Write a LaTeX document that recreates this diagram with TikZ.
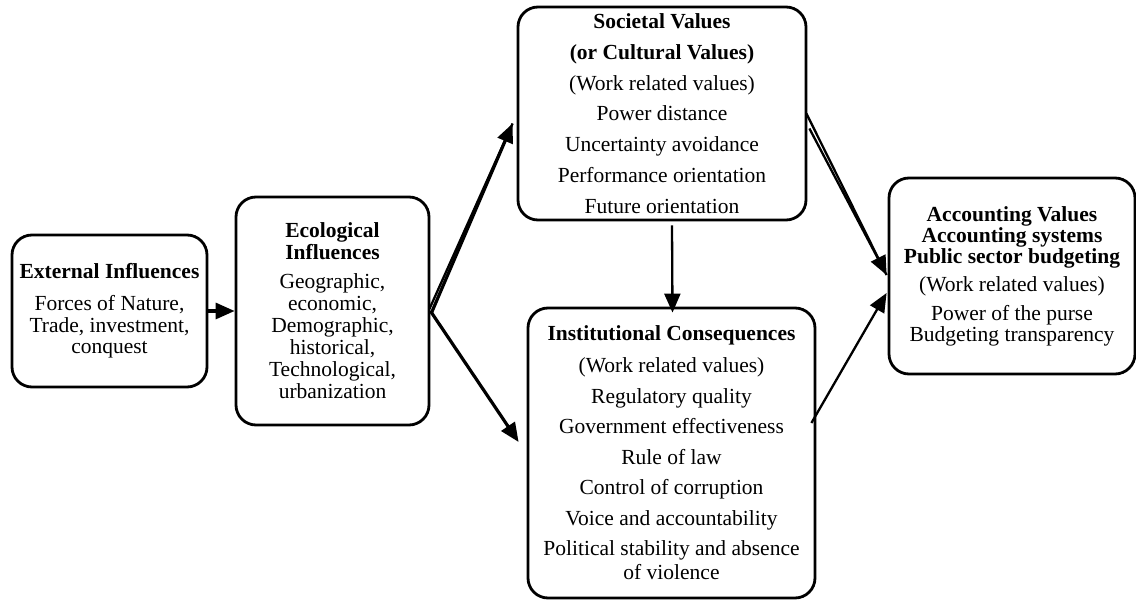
\documentclass[tikz,border=0pt]{standalone}
\usepackage{fontspec}
\setmainfont{Liberation Serif}
\usetikzlibrary{arrows.meta,calc}
\newcommand\boxfont[1]{\fontsize{21.5}{#1}\selectfont}
\tikzset{
  box/.style={draw, line width=2.8pt, rounded corners=20pt, inner sep=0pt, align=center},
  conn/.style={line width=3.2pt, -{Triangle[length=19pt,width=16pt]}},
  thinconn/.style={line width=2.3pt, -{Triangle[length=19pt,width=16pt]}},
  plainline/.style={line width=2.3pt},
}
\begin{document}
\begin{tikzpicture}[x=1pt,y=-1pt]
\useasboundingbox (0,0) rectangle (1136,601);

% boxes
\node[box, minimum width=195pt, minimum height=152pt, font=\boxfont{21.7}] (ext) at (109.5,311)
  {\textbf{External Influences}\\[10pt] Forces of Nature,\\ Trade, investment,\\ conquest};

\node[box, minimum width=193pt, minimum height=228pt, font=\boxfont{22}] (eco) at (332.5,311)
  {\textbf{Ecological}\\ \textbf{Influences}\\[7pt] Geographic,\\ economic,\\ Demographic,\\ historical,\\ Technological,\\ urbanization};

\node[box, minimum width=288pt, minimum height=213pt, font=\boxfont{30.8}] (soc) at (662,113.5)
  {\textbf{Societal Values}\\ \textbf{(or Cultural Values)}\\ (Work related values)\\ Power distance\\ Uncertainty avoidance\\ Performance orientation\\ Future orientation};

\node[box, minimum width=287pt, minimum height=290pt, font=\boxfont{30.5}] (inst) at (671.5,453)
  {\textbf{Institutional Consequences}\\[1.5pt] (Work related values)\\ Regulatory quality\\ Government effectiveness\\ Rule of law\\ Control of corruption\\ Voice and accountability\\ Political stability and absence\\[-6.5pt] of violence};

\node[box, minimum width=246pt, minimum height=196pt, font=\boxfont{21}] (acc) at (1012,276)
  {\textbf{Accounting Values}\\ \textbf{Accounting systems}\\ \textbf{Public sector budgeting}\\[7pt] (Work related values)\\[8pt] Power of the purse\\ Budgeting transparency};

% connectors
\draw[conn] (ext.east) -- (eco.west);

\coordinate (socin) at ($(soc.west)+(-4,10)$);
\draw[plainline] ($(eco.east)+(-1,-2)$) -- (socin);
\draw[conn] ($(eco.east)+(1,2)$) -- (socin);
\draw[conn] (eco.east) -- ($(inst.west)+(-8,-11)$);

\draw[thinconn] ($(soc.south)+(10,4)$) -- ($(inst.north)+(1,6)$);

\coordinate (accin) at ($(acc.west)+(-1,-1)$);
\draw[thinconn] ($(soc.east)+(-1,0)$) -- (accin);
\draw[plainline] ($(soc.east)+(2,15)$) -- (accin);
\draw[thinconn] ($(inst.east)+(-5,-30)$) -- ($(acc.west)+(-1,17)$);
\end{tikzpicture}
\end{document}
